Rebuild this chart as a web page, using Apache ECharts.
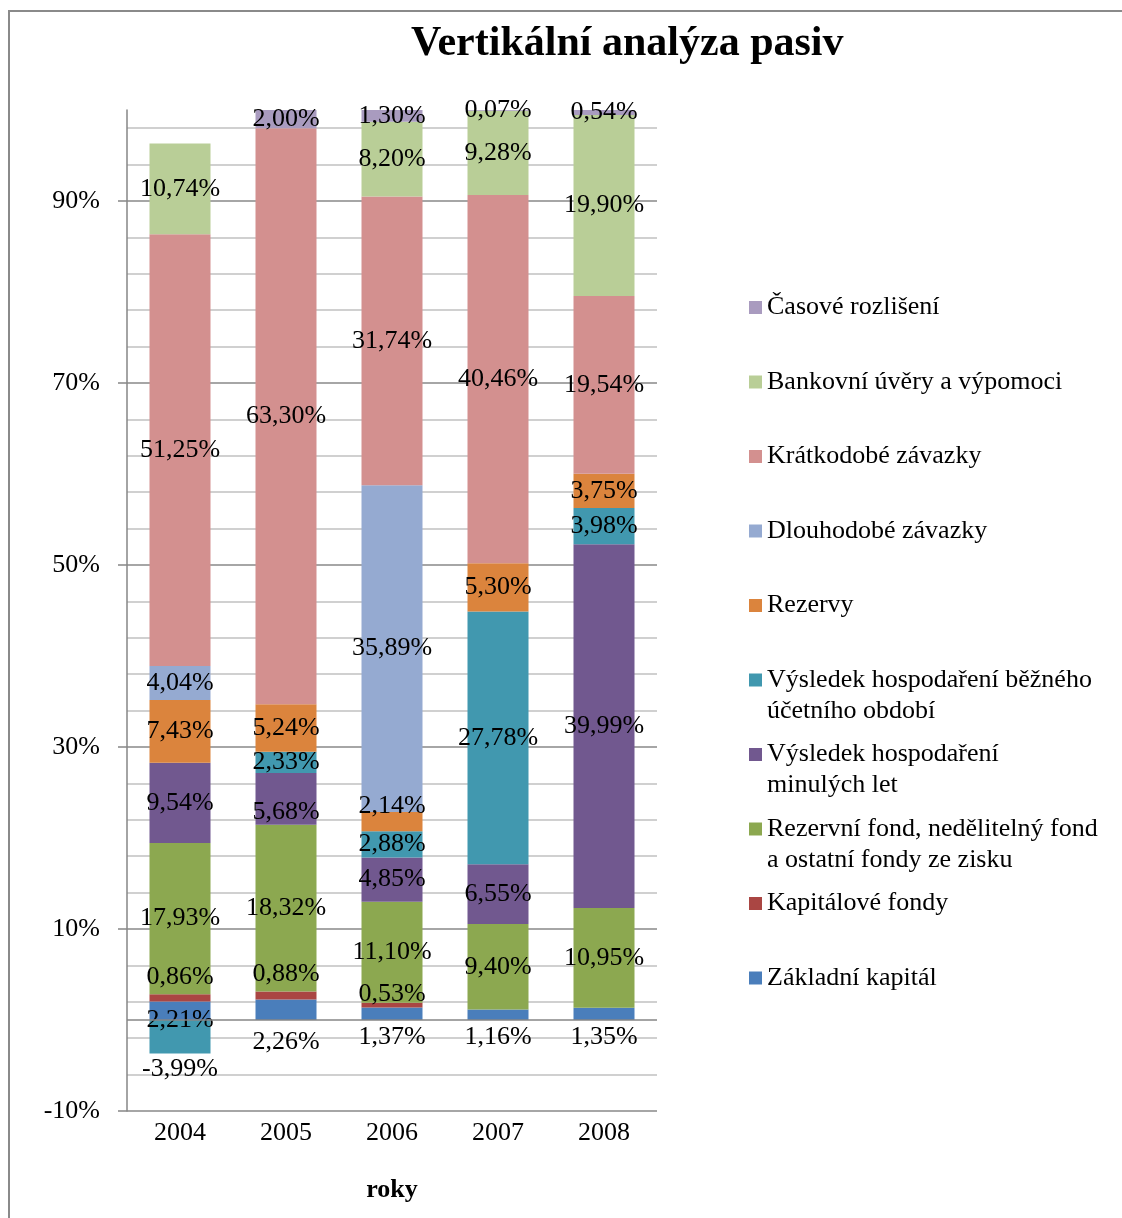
<!DOCTYPE html>
<html>
<head>
<meta charset="utf-8">
<title>Vertikální analýza pasiv</title>
<script src="https://cdn.jsdelivr.net/npm/echarts@6/dist/echarts.min.js"></script>
<style>
  html, body { margin: 0; padding: 0; background: #fff; }
  #main { width: 1122px; height: 1218px; }
</style>
</head>
<body>
<div id="main"></div>
<script>
// roky
var years = ['2004', '2005', '2006', '2007', '2008'];

// hodnoty v % (jak jsou v popiskach)
var zakladniKapital   = [2.21, 2.26, 1.37, 1.16, 1.35];
var kapitaloveFondy   = [0.86, 0.88, 0.53, null, null];
var rezervniFond      = [17.93, 18.32, 11.10, 9.40, 10.95];
var vysledekMinulych  = [9.54, 5.68, 4.85, 6.55, 39.99];
var vysledekBezneho   = [-3.99, 2.33, 2.88, 27.78, 3.98];
var rezervy           = [7.43, 5.24, 2.14, 5.30, 3.75];
var dlouhodobeZav     = [4.04, null, 35.89, null, null];
var kratkodobeZav     = [51.25, 63.30, 31.74, 40.46, 19.54];
var bankovniUvery     = [10.74, null, 8.20, 9.28, 19.90];
var casoveRozliseni   = [null, 2.00, 1.30, 0.07, 0.54];

var yTicks = [-10, 10, 30, 50, 70, 90];

var seriesNames = [
  'Základní kapitál',
  'Kapitálové fondy',
  'Rezervní fond, nedělitelný fond a ostatní fondy ze zisku',
  'Výsledek hospodaření minulých let',
  'Výsledek hospodaření běžného účetního období',
  'Rezervy',
  'Dlouhodobé závazky',
  'Krátkodobé závazky',
  'Bankovní úvěry a výpomoci',
  'Časové rozlišení'
];
var raw = [zakladniKapital, kapitaloveFondy, rezervniFond, vysledekMinulych, vysledekBezneho,
           rezervy, dlouhodobeZav, kratkodobeZav, bankovniUvery, casoveRozliseni];

var colors = ['#4A7EBB', '#AA4643', '#8CA850', '#71588F', '#4198AF',
              '#DB843D', '#95AAD1', '#D3908F', '#B9CE97', '#A99BBF'];

// zalomeni v legende (prazdny prvni radek => ikona u prvniho radku textu)
var legendText = {
  'Rezervní fond, nedělitelný fond a ostatní fondy ze zisku': '\nRezervní fond, nedělitelný fond\na ostatní fondy ze zisku',
  'Výsledek hospodaření minulých let': '\nVýsledek hospodaření\nminulých let',
  'Výsledek hospodaření běžného účetního období': '\nVýsledek hospodaření běžného\núčetního období'
};

// posuny popisku (serie-rok : px)
var labelNudge = { '0-0': -17, '0-1': 5, '1-2': 8, '3-1': 13, '4-0': 32, '5-2': -15 };
var labelPos = ['bottom', 'top'];

var FONT = 'Liberation Serif, Times New Roman, serif';

// 100% skladany graf jako v Excelu: deli se souctem absolutnich hodnot
var totals = years.map(function (y, i) {
  return raw.reduce(function (s, arr) { return s + Math.abs(arr[i] || 0); }, 0);
});

function fmt(v) {
  return v.toFixed(2).replace('.', ',') + '%';
}

var series = seriesNames.map(function (name, si) {
  return {
    name: name,
    type: 'bar',
    stack: 'pasiva',
    yAxisIndex: 1,
    barWidth: 61,
    itemStyle: { color: colors[si] },
    label: {
      show: true,
      position: labelPos[si] || 'inside',
      distance: 4,
      fontFamily: FONT,
      fontSize: 26,
      color: '#000',
      textBorderWidth: 0,
      formatter: function (p) { return fmt(raw[p.seriesIndex][p.dataIndex]); }
    },
    data: raw[si].map(function (v, i) {
      if (v == null) return '-';
      var item = { value: v / totals[i] * 100 };
      var n = labelNudge[si + '-' + i];
      if (n) item.label = { offset: [0, n] };
      return item;
    })
  };
});

// cara na nule
series[0].markLine = {
  silent: true,
  symbol: 'none',
  label: { show: false },
  lineStyle: { color: '#868686', width: 1.5, type: 'solid' },
  data: [{ yAxis: 0 }]
};

var legends = seriesNames.slice().reverse().map(function (name, k) {
  var text = legendText[name] || name;
  var two = text.indexOf('\n') >= 0;
  var y = 307.5 + k * 74.5;
  return {
    data: [name],
    left: 749,
    top: two ? y - 46.5 : y - 15.5,
    padding: 0,
    orient: 'vertical',
    icon: 'rect',
    itemWidth: 13,
    itemHeight: 13,
    selectedMode: false,
    formatter: function (n) { return legendText[n] || n; },
    textStyle: { fontFamily: FONT, fontSize: 26, color: '#000', lineHeight: 31 }
  };
});

var myChart = echarts.init(document.getElementById('main'));
myChart.setOption({
  animation: false,
  backgroundColor: '#fff',
  title: {
    text: 'Vertikální analýza pasiv',
    left: 406,
    top: 18,
    textStyle: { fontFamily: FONT, fontSize: 42, fontWeight: 'bold', color: '#000' }
  },
  legend: legends,
  grid: { left: 127, right: 465, top: 110, bottom: 107, outerBoundsMode: 'none' },
  xAxis: {
    type: 'category',
    data: years,
    axisLine: { show: false },
    axisTick: { show: false },
    axisLabel: { margin: 9, fontFamily: FONT, fontSize: 26, color: '#000' },
    name: 'roky',
    nameLocation: 'middle',
    nameGap: 66,
    nameTextStyle: { fontFamily: FONT, fontSize: 26, fontWeight: 'bold', color: '#000' }
  },
  yAxis: [
    {
      // mrizka po 4 %
      type: 'value', position: 'left', min: -10, max: 100, interval: 4,
      axisLine: { show: false }, axisTick: { show: false }, axisLabel: { show: false },
      splitLine: {
        show: true, showMaxLine: false,
        lineStyle: { color: ['#888888', '#C0C0C0', '#C0C0C0', '#C0C0C0', '#C0C0C0'], width: 1.5 }
      }
    },
    {
      type: 'value', position: 'left', min: -10, max: 100, interval: 20,
      axisLine: { show: true, lineStyle: { color: '#868686', width: 1.5 } },
      axisTick: { show: true, length: 9, customValues: yTicks, lineStyle: { color: '#868686', width: 1.5 } },
      axisLabel: { customValues: yTicks, formatter: '{value}%', margin: 27, fontFamily: FONT, fontSize: 26, color: '#000' },
      splitLine: { show: false }
    }
  ],
  graphic: [{
    type: 'rect', silent: true, z: -1,
    shape: { x: 9, y: 11, width: 1300, height: 1300 },
    style: { fill: 'none', stroke: '#8a8a8a', lineWidth: 2 }
  }],
  series: series
});
</script>
</body>
</html>
